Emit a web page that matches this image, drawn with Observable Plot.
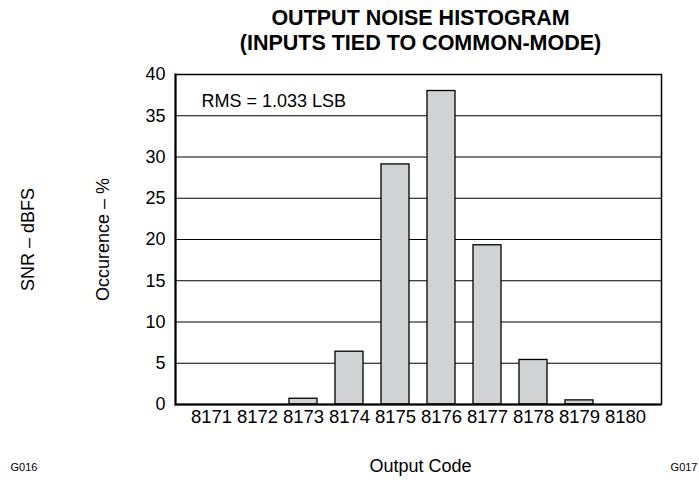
<!DOCTYPE html>
<html>
<head>
<meta charset="utf-8">
<script src="https://cdn.jsdelivr.net/npm/d3@7"></script>
<script src="https://cdn.jsdelivr.net/npm/@observablehq/plot@0.6"></script>
<style>
  html, body { margin: 0; padding: 0; background: #fff; }
  #chart svg { display: block; }
</style>
</head>
<body>
<div id="chart"></div>
<script>
const codes = ["8171","8172","8173","8174","8175","8176","8177","8178","8179","8180"];
const occurrence = [0, 0, 0.7, 6.4, 29.1, 38.0, 19.3, 5.4, 0.5, 0];
const yTicks = [0, 5, 10, 15, 20, 25, 30, 35, 40];
const gridTicks = [5, 10, 15, 20, 25, 30, 35];
const titleLines = ["OUTPUT NOISE HISTOGRAM", "(INPUTS TIED TO COMMON-MODE)"];
const annotation = "RMS = 1.033 LSB";
const yLabel = "Occurence – %";
const xLabel = "Output Code";
const strayLeft = "SNR – dBFS";
const codeLeft = "G016";
const codeRight = "G017";

const data = codes.map((c, i) => ({code: c, pct: occurrence[i]}));
const font = "'Liberation Sans', Arial, sans-serif";

const chart = Plot.plot({
  width: 699,
  height: 480,
  marginTop: 74,
  marginBottom: 76,
  marginLeft: 175,
  marginRight: 38,
  style: {fontFamily: font, fontSize: "18px", color: "#000", background: "#fff"},
  x: {type: "band", domain: codes, paddingInner: 0.4, paddingOuter: 0.44},
  y: {domain: [0, 40]},
  marks: [
    Plot.gridY(gridTicks, {stroke: "#000", strokeOpacity: 1, strokeWidth: 1}),
    Plot.barY(data, {x: "code", y: "pct", fill: "#d1d2d4", stroke: "#000", strokeWidth: 1.3}),
    Plot.frame({stroke: "#000", strokeWidth: 1.5}),
    Plot.ruleY([0], {stroke: "#000", strokeWidth: 2}),
    Plot.frame({anchor: "left", stroke: "#000", strokeWidth: 2}),
    Plot.axisY({ticks: yTicks, tickSize: 0, tickPadding: 10, label: null, fontSize: 18}),
    Plot.axisX({tickSize: 0, tickPadding: 5, label: null, fontSize: 18.5}),
    Plot.text([annotation], {frameAnchor: "top-left", dx: 26, dy: 27, lineAnchor: "middle", textAnchor: "start", fontSize: 18}),
    Plot.text([titleLines[0]], {frameAnchor: "top", dx: 2, dy: -56, lineAnchor: "middle", textAnchor: "middle", fontSize: 21.5, fontWeight: "bold"}),
    Plot.text([titleLines[1]], {frameAnchor: "top", dx: 2, dy: -31, lineAnchor: "middle", textAnchor: "middle", fontSize: 21.5, fontWeight: "bold"}),
    Plot.text([yLabel], {frameAnchor: "left", dx: -72, rotate: -90, lineAnchor: "middle", textAnchor: "middle", fontSize: 18}),
    Plot.text([strayLeft], {frameAnchor: "left", dx: -147, rotate: -90, lineAnchor: "middle", textAnchor: "middle", fontSize: 18}),
    Plot.text([xLabel], {frameAnchor: "bottom", dx: 2, dy: 62, lineAnchor: "middle", textAnchor: "middle", fontSize: 18}),
    Plot.text([codeLeft], {frameAnchor: "bottom-left", dx: -165, dy: 63, lineAnchor: "middle", textAnchor: "start", fontSize: 11}),
    Plot.text([codeRight], {frameAnchor: "bottom-right", dx: 36, dy: 63, lineAnchor: "middle", textAnchor: "end", fontSize: 11})
  ]
});
document.getElementById("chart").appendChild(chart);
</script>
</body>
</html>
